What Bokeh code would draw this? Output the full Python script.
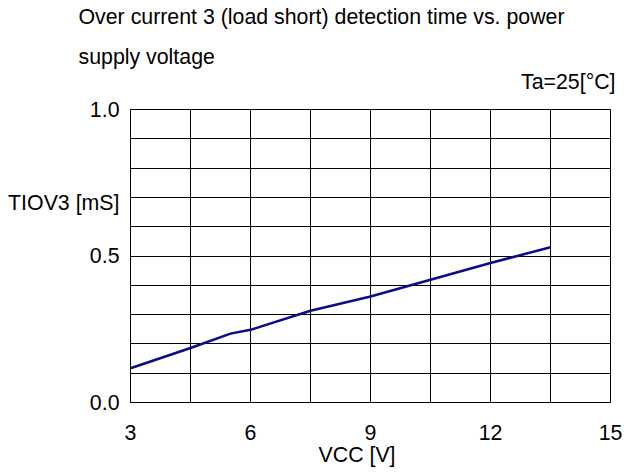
from bokeh.plotting import figure
from bokeh.models import Range1d, FixedTicker, Title
from bokeh.embed import file_html
from bokeh.resources import INLINE

# data
vcc = [3.0, 4.5, 5.5, 6.0, 7.5, 9.0, 10.5, 12.0, 13.5]
tiov3 = [0.117, 0.186, 0.235, 0.248, 0.313, 0.362, 0.419, 0.476, 0.530]

x_tick_labels = [3, 6, 9, 12, 15]
y_tick_labels = [0.0, 0.5, 1.0]
x_grid = [3, 4.5, 6, 7.5, 9, 10.5, 12, 13.5, 15]
y_grid = [0.0, 0.1, 0.2, 0.3, 0.4, 0.5, 0.6, 0.7, 0.8, 0.9, 1.0]

title_text = "Over current 3 (load short) detection time vs. power\nsupply voltage"
cond = "Ta=25[°C]"
x_label = "VCC [V]"
y_label = "TIOV3 [mS]"
y_label_at = 0.68

FONT = "Liberation Sans"
FS = "21.33px"

p = figure(width=622, height=470, output_backend="svg", toolbar_location=None,
           x_range=Range1d(3, 15), y_range=Range1d(0, 1),
           min_border_left=130, min_border_right=12, min_border_top=109, min_border_bottom=68)
p.background_fill_color = "white"
p.border_fill_color = "white"
p.outline_line_color = "black"
p.outline_line_width = 1

p.xaxis.ticker = FixedTicker(ticks=x_tick_labels)
p.yaxis.ticker = FixedTicker(ticks=y_tick_labels + [y_label_at])
p.yaxis.major_label_overrides = {0: "0.0", 0.5: "0.5", 1: "1.0", y_label_at: y_label}
for ax in (p.xaxis, p.yaxis):
    ax.major_tick_in = 0
    ax.major_tick_out = 0
    ax.minor_tick_in = 0
    ax.minor_tick_out = 0
    ax.axis_line_color = "black"
    ax.major_label_text_font = FONT
    ax.major_label_text_font_size = FS
    ax.major_label_text_color = "black"
p.xaxis.major_label_standoff = 22
p.yaxis.major_label_standoff = 11

p.xgrid.ticker = FixedTicker(ticks=x_grid)
p.ygrid.ticker = FixedTicker(ticks=y_grid)
for g in (p.xgrid, p.ygrid):
    g.grid_line_color = "black"
    g.grid_line_alpha = 1.0
    g.grid_line_width = 1

p.line(vcc, tiov3, line_color="#0a0a8a", line_width=2.5)

def ttl(text, side, align, offset, standoff, valign="bottom", lh=1.2):
    p.add_layout(Title(text=text, align=align, offset=offset, standoff=standoff,
                       vertical_align=valign, text_line_height=lh,
                       text_font=FONT, text_font_size=FS, text_font_style="normal",
                       text_color="black"), side)

# above panel: innermost first
ttl(cond, "above", "right", -5, 31)
ttl(title_text, "above", "left", -52, -34, lh=1.7)
# below panel, after the axis
ttl(x_label, "below", "left", 188, 0, valign="top")

open("out.html", "w").write(file_html(p, INLINE))
